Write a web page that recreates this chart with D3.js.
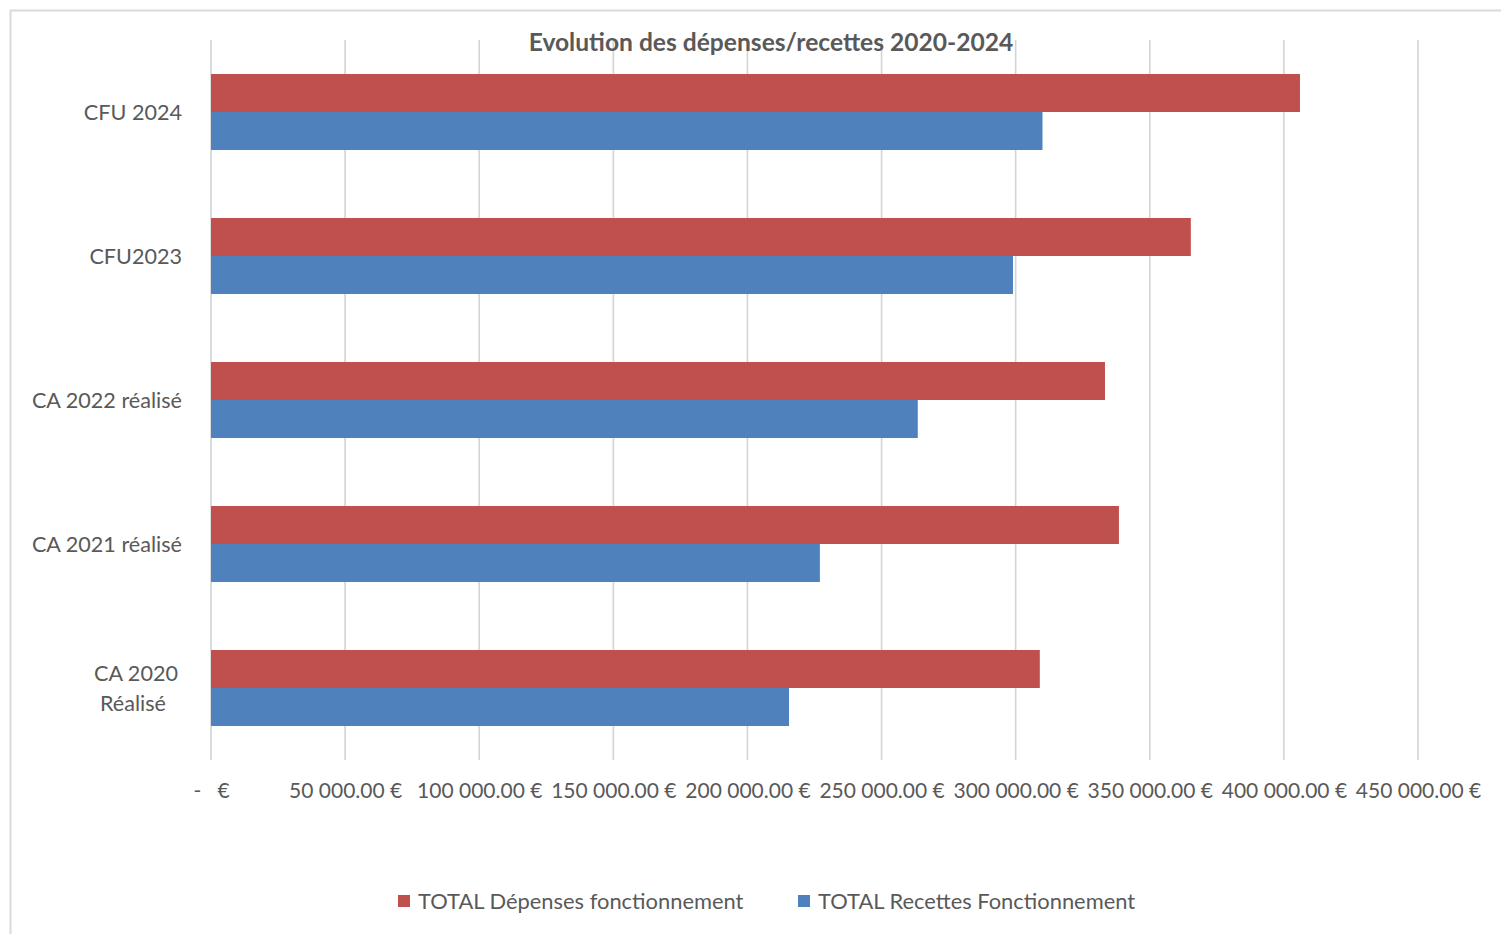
<!DOCTYPE html>
<html>
<head>
<meta charset="utf-8">
<script src="https://cdn.jsdelivr.net/npm/d3@7"></script>
<style>
  html, body { margin: 0; padding: 0; background: #fff; }
  svg { display: block; }
  text { font-family: Lato, "Noto Sans", sans-serif; fill: #595959; }
</style>
</head>
<body>
<div id="chart"></div>
<script>
// ---- data ----
const categories = ["CFU 2024", "CFU2023", "CA 2022 réalisé", "CA 2021 réalisé", "CA 2020 Réalisé"];
const seriesNames = ["TOTAL Dépenses fonctionnement", "TOTAL Recettes Fonctionnement"];
const depenses = [406000, 365300, 333300, 338500, 309000];
const recettes = [310000, 299000, 263500, 227000, 215500];
const tickValues = [0, 50000, 100000, 150000, 200000, 250000, 300000, 350000, 400000, 450000];
const tickLabels = ["-   €", "50 000.00 €", "100 000.00 €", "150 000.00 €", "200 000.00 €", "250 000.00 €", "300 000.00 €", "350 000.00 €", "400 000.00 €", "450 000.00 €"];
const title = "Evolution des dépenses/recettes 2020-2024";
const colors = ["#C0504D", "#4F81BD"];

const W = 1501, H = 934;
const svg = d3.select("#chart").append("svg").attr("width", W).attr("height", H);

// outer chart border
svg.append("rect").attr("x", 10.5).attr("y", 10.5).attr("width", W).attr("height", H)
  .attr("fill", "none").attr("stroke", "#D9D9D9").attr("stroke-width", 2);

const pLeft = 211, pRight = 1418, pTop = 40, pBottom = 760;
const x = d3.scaleLinear().domain([0, 450000]).range([pLeft, pRight]);
const y0 = d3.scaleBand().domain(categories).range([pTop, pBottom]).paddingInner(0.472).paddingOuter(0.236);
const y1 = d3.scaleBand().domain(seriesNames).range([0, y0.bandwidth()]);

// gridlines
svg.append("g").selectAll("line").data(tickValues).join("line")
  .attr("x1", d => x(d)).attr("x2", d => x(d))
  .attr("y1", pTop).attr("y2", pBottom)
  .attr("stroke", "#D4D4D4").attr("stroke-width", 1.6);

// axis labels
const xAxis = d3.axisBottom(x).tickValues(tickValues).tickFormat((d, i) => tickLabels[i]).tickSize(0).tickPadding(0);
const gx = svg.append("g").attr("transform", `translate(0,${pBottom})`).call(xAxis);
gx.select(".domain").remove();
gx.selectAll("text").attr("dy", null).attr("y", 38)
  .style("font-size", "21px").style("fill", "#595959").style("font-family", "Lato, sans-serif")
  .attr("xml:space", "preserve").style("white-space", "pre");

// bars
const rows = categories.map((c, i) => ({ cat: c, vals: [depenses[i], recettes[i]] }));
const g = svg.append("g").selectAll("g").data(rows).join("g")
  .attr("transform", d => `translate(0,${y0(d.cat)})`);
g.selectAll("rect").data(d => d.vals.map((v, j) => ({ v, s: seriesNames[j], j }))).join("rect")
  .attr("x", x(0)).attr("y", d => y1(d.s))
  .attr("width", d => x(d.v) - x(0)).attr("height", y1.bandwidth())
  .attr("fill", d => colors[d.j]);

// category labels
const catLabels = svg.append("g");
categories.forEach(c => {
  const cy = y0(c) + y0.bandwidth() / 2;
  if (c === "CA 2020 Réalisé") {
    const t = catLabels.append("text").attr("text-anchor", "middle").style("font-size", "21.6px");
    t.append("tspan").attr("x", 136).attr("y", cy - 15).attr("dy", "0.35em").text("CA 2020");
    t.append("tspan").attr("x", 133).attr("y", cy + 15).attr("dy", "0.35em").text("Réalisé");
  } else {
    catLabels.append("text").attr("x", 182).attr("y", cy).attr("dy", "0.35em")
      .attr("text-anchor", "end").style("font-size", "21.6px").text(c);
  }
});

// title
svg.append("text").attr("x", 771).attr("y", 42).attr("dy", "0.35em").attr("text-anchor", "middle")
  .style("font-size", "24.6px").style("font-weight", "bold").text(title);

// legend
const legendX = [398, 798];
const lg = svg.append("g").selectAll("g").data(seriesNames).join("g")
  .attr("transform", (d, i) => `translate(${legendX[i]},901)`);
lg.append("rect").attr("x", 0).attr("y", -6).attr("width", 12).attr("height", 12).attr("fill", (d, i) => colors[i]);
lg.append("text").attr("x", 20).attr("y", 0).attr("dy", "0.35em").style("font-size", "21.9px").text(d => d);
</script>
</body>
</html>
